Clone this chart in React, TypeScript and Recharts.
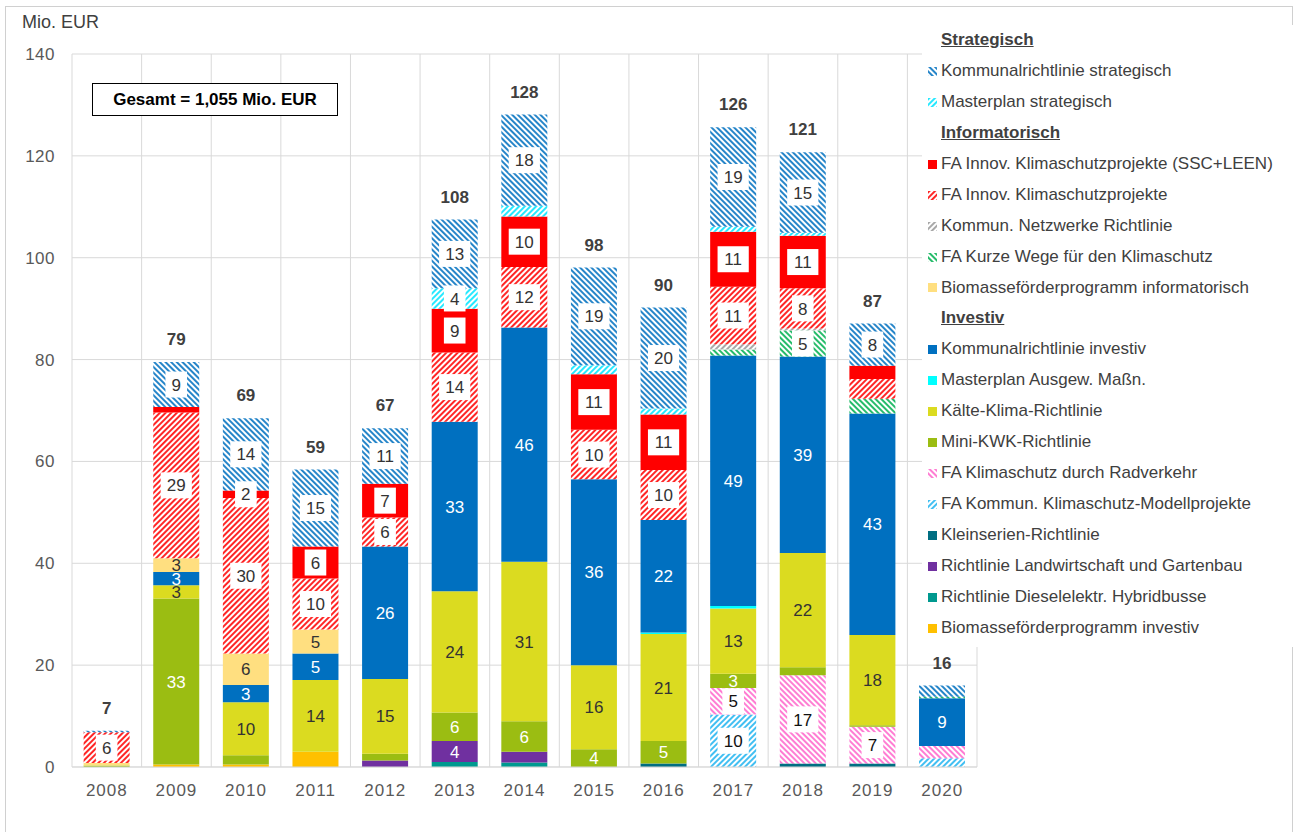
import React from 'react'
import { BarChart, Bar, XAxis, YAxis, CartesianGrid, LabelList } from 'recharts'

const YEARS = ['2008', '2009', '2010', '2011', '2012', '2013', '2014', '2015', '2016', '2017', '2018', '2019', '2020']
const TOTALS = [7, 79, 69, 59, 67, 108, 128, 98, 90, 126, 121, 87, 16]
const Y_TICKS = [0, 20, 40, 60, 80, 100, 120, 140]

// values in Mio. EUR, stacked bottom -> top
const biomInv = [0, 0.5, 0.5, 3.0, 0, 0, 0, 0, 0, 0, 0, 0, 0]
const diesel = [0, 0, 0, 0, 0, 1.0, 0.9, 0, 0, 0, 0, 0, 0]
const landw = [0, 0, 0, 0, 1.3, 4.1, 2.1, 0, 0, 0, 0, 0, 0]
const klein = [0, 0, 0, 0, 0, 0, 0, 0, 0.7, 0, 0.7, 0.7, 0]
const modell = [0, 0, 0, 0, 0, 0, 0, 0, 0, 10.3, 0, 0, 1.7]
const rad = [0, 0, 0, 0, 0, 0, 0, 0, 0, 5.2, 17.3, 7.2, 2.4]
const miniKwk = [0.3, 32.6, 1.8, 0, 1.3, 5.6, 6.0, 3.5, 4.4, 2.8, 1.6, 0.3, 0]
const kaelte = [0, 2.6, 10.4, 14.1, 14.7, 23.8, 31.3, 16.5, 21.0, 12.8, 22.4, 17.7, 0]
const masterInv = [0, 0, 0, 0, 0, 0, 0, 0, 0.3, 0.5, 0, 0, 0]
const kommInv = [0, 2.6, 3.4, 5.2, 26.0, 33.3, 46.0, 36.5, 22.1, 49.2, 38.6, 43.5, 9.4]
const biomInfo = [0.5, 2.7, 6.2, 4.7, 0, 0, 0, 0, 0, 0, 0, 0, 0]
const kurze = [0, 0, 0, 0, 0, 0, 0, 0, 0, 1.2, 5.1, 2.9, 0.3]
const netz = [0, 0, 0, 0, 0, 0, 0, 0, 0, 1.0, 0.4, 0, 0]
const faInnov = [6.0, 28.6, 30.5, 10.0, 5.7, 13.6, 11.9, 9.7, 9.8, 11.3, 7.9, 3.9, 0]
const ssc = [0, 1.1, 1.5, 6.3, 6.6, 8.6, 9.9, 10.9, 10.9, 10.8, 10.3, 2.6, 0]
const masterStrat = [0, 0, 0, 0, 0, 4.0, 2.1, 1.8, 1.2, 1.0, 0.6, 0, 0]
const kommStrat = [0.3, 8.8, 14.2, 15.1, 10.9, 13.5, 17.9, 19.2, 19.8, 19.5, 15.8, 8.3, 2.2]

// printed segment labels (null = not shown)
const _ = null
const lblLandw = [_, _, _, _, _, 4, _, _, _, _, _, _, _]
const lblModell = [_, _, _, _, _, _, _, _, _, 10, _, _, _]
const lblRad = [_, _, _, _, _, _, _, _, _, 5, 17, 7, _]
const lblMiniKwk = [_, 33, _, _, _, 6, 6, 4, 5, 3, _, _, _]
const lblKaelte = [_, 3, 10, 14, 15, 24, 31, 16, 21, 13, 22, 18, _]
const lblKommInv = [_, 3, 3, 5, 26, 33, 46, 36, 22, 49, 39, 43, 9]
const lblBiomInfo = [_, 3, 6, 5, _, _, _, _, _, _, _, _, _]
const lblKurze = [_, _, _, _, _, _, _, _, _, _, 5, _, _]
const lblFaInnov = [6, 29, 30, 10, 6, 14, 12, 10, 10, 11, 8, _, _]
const lblSsc = [_, _, 2, 6, 7, 9, 10, 11, 11, 11, 11, _, _]
const lblMasterStrat = [_, _, _, _, _, 4, _, _, _, _, _, _, _]
const lblKommStrat = [_, 9, 14, 15, 11, 13, 18, 19, 20, 19, 15, 8, _]
const none = YEARS.map(() => null)

type Series = {
  key: string
  name: string
  group: string
  color: string
  hatch?: 'up' | 'down'
  values: number[]
  labels: (number | null)[]
  labelColor?: string
  box?: boolean
}

const SERIES: Series[] = [
  { key: 'biomInv', name: 'Biomasseförderprogramm investiv', group: 'Investiv', color: '#ffc000', values: biomInv, labels: none },
  { key: 'diesel', name: 'Richtlinie Dieselelektr. Hybridbusse', group: 'Investiv', color: '#00998f', values: diesel, labels: none },
  { key: 'landw', name: 'Richtlinie Landwirtschaft und Gartenbau', group: 'Investiv', color: '#7030a0', values: landw, labels: lblLandw, labelColor: '#fff' },
  { key: 'klein', name: 'Kleinserien-Richtlinie', group: 'Investiv', color: '#006e82', values: klein, labels: none },
  { key: 'modell', name: 'FA Kommun. Klimaschutz-Modellprojekte', group: 'Investiv', color: '#1fb4f0', hatch: 'up', values: modell, labels: lblModell, labelColor: '#111', box: true },
  { key: 'rad', name: 'FA Klimaschutz durch Radverkehr', group: 'Investiv', color: '#ff66cc', hatch: 'down', values: rad, labels: lblRad, labelColor: '#111', box: true },
  { key: 'miniKwk', name: 'Mini-KWK-Richtlinie', group: 'Investiv', color: '#9bbd12', values: miniKwk, labels: lblMiniKwk, labelColor: '#fff' },
  { key: 'kaelte', name: 'Kälte-Klima-Richtlinie', group: 'Investiv', color: '#dbdb20', values: kaelte, labels: lblKaelte, labelColor: '#333' },
  { key: 'masterInv', name: 'Masterplan Ausgew. Maßn.', group: 'Investiv', color: '#00ffff', values: masterInv, labels: none },
  { key: 'kommInv', name: 'Kommunalrichtlinie investiv', group: 'Investiv', color: '#0070c0', values: kommInv, labels: lblKommInv, labelColor: '#fff' },
  { key: 'biomInfo', name: 'Biomasseförderprogramm informatorisch', group: 'Informatorisch', color: '#ffdf80', values: biomInfo, labels: lblBiomInfo, labelColor: '#333' },
  { key: 'kurze', name: 'FA Kurze Wege für den Klimaschutz', group: 'Informatorisch', color: '#00b050', hatch: 'down', values: kurze, labels: lblKurze, labelColor: '#333', box: true },
  { key: 'netz', name: 'Kommun. Netzwerke Richtlinie', group: 'Informatorisch', color: '#999999', hatch: 'up', values: netz, labels: none },
  { key: 'faInnov', name: 'FA Innov. Klimaschutzprojekte', group: 'Informatorisch', color: '#ff0000', hatch: 'up', values: faInnov, labels: lblFaInnov, labelColor: '#333', box: true },
  { key: 'ssc', name: 'FA Innov. Klimaschutzprojekte (SSC+LEEN)', group: 'Informatorisch', color: '#ff0000', values: ssc, labels: lblSsc, labelColor: '#333', box: true },
  { key: 'masterStrat', name: 'Masterplan strategisch', group: 'Strategisch', color: '#00e5ff', hatch: 'up', values: masterStrat, labels: lblMasterStrat, labelColor: '#333', box: true },
  { key: 'kommStrat', name: 'Kommunalrichtlinie strategisch', group: 'Strategisch', color: '#0070c0', hatch: 'down', values: kommStrat, labels: lblKommStrat, labelColor: '#333', box: true },
]

const data = YEARS.map((year, i) => {
  const row: Record<string, any> = { year, total: TOTALS[i] }
  SERIES.forEach(s => {
    row[s.key] = s.values[i]
    row[s.key + '_lbl'] = s.labels[i]
  })
  return row
})

const FONT = '"Liberation Sans", Arial, sans-serif'

function HatchPattern({ id, color, dir }: { id: string; color: string; dir: 'up' | 'down' }) {
  return (
    <pattern id={id} width={4} height={4} patternUnits="userSpaceOnUse" patternTransform={`rotate(${dir === 'up' ? 45 : -45})`}>
      <rect width={4} height={4} fill="#fff" />
      <line x1={1} y1={0} x2={1} y2={4} stroke={color} strokeWidth={1.7} />
    </pattern>
  )
}

const fillOf = (s: Series, prefix = 'hp') => (s.hatch ? `url(#${prefix}-${s.key})` : s.color)

const segLabel = (s: Series) => (props: any) => {
  const { x, y, width, height, value } = props
  if (value == null) return null
  const cx = Number(x) + Number(width) / 2
  const cy = Number(y) + Number(height) / 2
  const txt = String(value)
  const w = txt.length * 9.6 + 12
  return (
    <g>
      {s.box && <rect x={cx - w / 2} y={cy - 13} width={w} height={26} fill="#fff" />}
      <text x={cx} y={cy} dy="0.36em" textAnchor="middle" fontSize={17} fill={s.labelColor}>{txt}</text>
    </g>
  )
}

const totalLabel = (props: any) => {
  const { x, y, width, value } = props
  return (
    <text x={Number(x) + Number(width) / 2} y={Number(y) - 23} dy="0.36em" textAnchor="middle"
      fontSize={17} fontWeight="bold" fill="#404040">{value}</text>
  )
}

const ROW = 30.95

function Legend() {
  const groups = ['Strategisch', 'Informatorisch', 'Investiv']
  const rows: React.ReactNode[] = []
  groups.forEach(g => {
    rows.push(
      <div key={g} style={{ height: ROW, lineHeight: `${ROW}px`, paddingLeft: 19, fontWeight: 'bold', textDecoration: 'underline' }}>{g}</div>
    )
    SERIES.filter(s => s.group === g).reverse().forEach(s => {
      rows.push(
        <div key={s.key} style={{ height: ROW, lineHeight: `${ROW}px`, display: 'flex', alignItems: 'center', whiteSpace: 'nowrap' }}>
          <svg width={9} height={9} style={{ marginLeft: 6, marginRight: 4, flex: 'none' }}>
            {s.hatch && (
              <defs>
                <HatchPattern id={`lg-${s.key}`} color={s.color} dir={s.hatch} />
              </defs>
            )}
            <rect width={9} height={9} fill={fillOf(s, 'lg')} />
          </svg>
          <span>{s.name}</span>
        </div>
      )
    })
  })
  return (
    <div style={{ position: 'absolute', left: 922, top: 25, width: 371, height: 622, background: '#fff', color: '#404040', fontSize: 17 }}>
      {rows}
    </div>
  )
}

export default function App() {
  return (
    <div style={{ position: 'fixed', left: 0, top: 0, width: 1293, height: 832, background: '#fff', fontFamily: FONT, overflow: 'hidden' }}>
      <div style={{ position: 'absolute', left: 5, top: 6, width: 1286, height: 840, border: '1px solid #d0d0d0' }} />
      <div style={{ position: 'absolute', left: 22, top: 12, fontSize: 18, color: '#404040' }}>Mio. EUR</div>
      <div style={{ position: 'absolute', left: 0, top: 0 }}>
        <BarChart width={1293} height={832} data={data} barCategoryGap="16.7%"
          margin={{ top: 54, right: 316, bottom: 35, left: 0 }}>
          <defs>
            {SERIES.filter(s => s.hatch).map(s => (
              <HatchPattern key={s.key} id={`hp-${s.key}`} color={s.color} dir={s.hatch!} />
            ))}
          </defs>
          <CartesianGrid stroke="#d9d9d9"
            verticalCoordinatesGenerator={({ offset }: any) =>
              YEARS.map((_y, i) => offset.left + (i * offset.width) / YEARS.length).concat(offset.left + offset.width)} />
          <XAxis dataKey="year" axisLine={{ stroke: '#d9d9d9' }} tickLine={false} tickMargin={11}
            tick={{ fill: '#595959', fontSize: 17, letterSpacing: 1 }} />
          <YAxis domain={[0, 140]} ticks={Y_TICKS} width={72} axisLine={false} tickLine={false} tickMargin={11}
            tick={{ fill: '#595959', fontSize: 17, letterSpacing: 0.5 }} />
          {SERIES.map(s => (
            <Bar key={s.key} dataKey={s.key} name={s.name} stackId="a" fill={fillOf(s)} isAnimationActive={false}>
              <LabelList dataKey={s.key + '_lbl'} content={segLabel(s)} />
              {s.key === 'kommStrat' && <LabelList dataKey="total" content={totalLabel} />}
            </Bar>
          ))}
        </BarChart>
      </div>
      <Legend />
      <div style={{ position: 'absolute', left: 92, top: 83, width: 244, height: 31, border: '1px solid #000', background: '#fff',
        fontSize: 17, fontWeight: 'bold', lineHeight: '31px', textAlign: 'center', color: '#000' }}>
        Gesamt = 1,055 Mio. EUR
      </div>
    </div>
  )
}
